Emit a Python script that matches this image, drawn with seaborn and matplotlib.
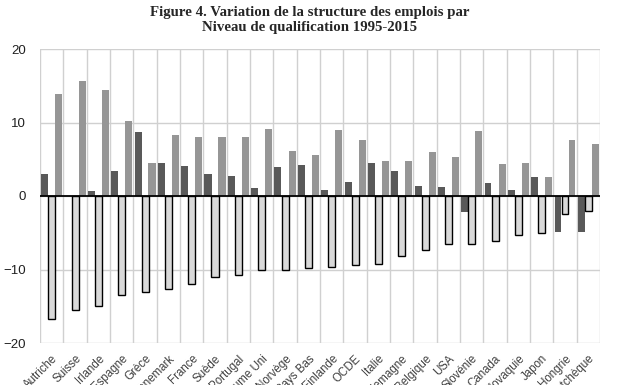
import matplotlib
matplotlib.use("Agg")
import matplotlib.pyplot as plt
import seaborn as sns
import pandas as pd
import numpy as np

pays = ["Autriche", "Suisse", "Irlande", "Espagne", "Grèce", "Danemark", "France",
        "Suède", "Portugal", "Royaume Uni", "Norvège", "Pays Bas", "Finlande", "OCDE",
        "Italie", "Allemagne", "Belgique", "USA", "Slovénie", "Canada", "Slovaquie",
        "Japon", "Hongrie", "Rép. tchèque"]
faible = [3.0, 0.0, 0.7, 3.4, 8.7, 4.5, 4.1, 3.0, 2.7, 1.1, 3.9, 4.2, 0.8, 1.9,
          4.5, 3.4, 1.4, 1.2, -2.2, 1.8, 0.8, 2.6, -4.9, -4.9]
intermediaire = [-16.8, -15.5, -15.0, -13.5, -13.1, -12.7, -12.0, -11.0, -10.7, -10.1,
                 -10.0, -9.8, -9.6, -9.4, -9.3, -8.1, -7.3, -6.5, -6.5, -6.1, -5.3,
                 -5.1, -2.4, -2.0]
eleve = [13.85, 15.6, 14.4, 10.2, 4.5, 8.3, 8.0, 8.0, 8.0, 9.1, 6.1, 5.6, 9.0, 7.6,
         4.75, 4.75, 6.0, 5.3, 8.8, 4.3, 4.5, 2.6, 7.6, 7.06]
series = ["Faible", "Intermédiaire", "Élevé"]
couleurs = ["#595959", "#d9d9d9", "#969696"]
titre = "Figure 4. Variation de la structure des emplois par\nNiveau de qualification 1995-2015"

df = pd.DataFrame({
    "pays": pays * 3,
    "serie": [series[0]] * len(pays) + [series[1]] * len(pays) + [series[2]] * len(pays),
    "valeur": faible + intermediaire + eleve,
})

sns.set_style("white")
plt.rcParams["font.family"] = ["Liberation Sans", "DejaVu Sans"]

fig = plt.figure(figsize=(6.17, 3.85), dpi=100)
ax = fig.add_axes([40 / 617, 1 - 343 / 385, 560 / 617, 294 / 385])

sns.barplot(data=df, x="pays", y="valeur", hue="serie", order=pays, hue_order=series,
            palette=couleurs, width=0.9, dodge=True, saturation=1, ax=ax,
            legend=False, errorbar=None)

for cont, s in zip(ax.containers, series):
    for bar in cont:
        if s == "Intermédiaire":
            bar.set_edgecolor("black")
            bar.set_linewidth(1.0)
        else:
            bar.set_linewidth(0)

ax.set_xlim(-0.5, len(pays) - 0.5)
ax.set_ylim(-20, 20)
ax.set_yticks([-20, -10, 0, 10, 20])
ax.set_xlabel("")
ax.set_ylabel("")

ax.set_xticks(np.arange(len(pays)))
ax.set_xticklabels(pays, rotation=45, ha="right", va="top", rotation_mode="anchor",
                   fontsize=8.3, color="#404040")
ax.set_xticks(np.arange(len(pays) + 1) - 0.5, minor=True)
ax.tick_params(axis="x", which="both", length=0, pad=7)
ax.tick_params(axis="y", length=0, pad=10, labelsize=9.5, labelcolor="#202020")

ax.grid(axis="y", which="major", color="#d0d0d0", linewidth=1)
ax.grid(axis="x", which="minor", color="#d0d0d0", linewidth=1)
ax.grid(axis="x", which="major", visible=False)
ax.set_axisbelow(True)
ax.axhline(0, color="black", linewidth=1.3, zorder=3)

for sp in ax.spines.values():
    sp.set_visible(False)

fig.text(0.502, 0.985, titre, ha="center", va="top", fontsize=10.7, fontweight="bold",
         family=["Liberation Serif", "DejaVu Serif"], linespacing=1.25)

fig.savefig("out.png", dpi=100)
